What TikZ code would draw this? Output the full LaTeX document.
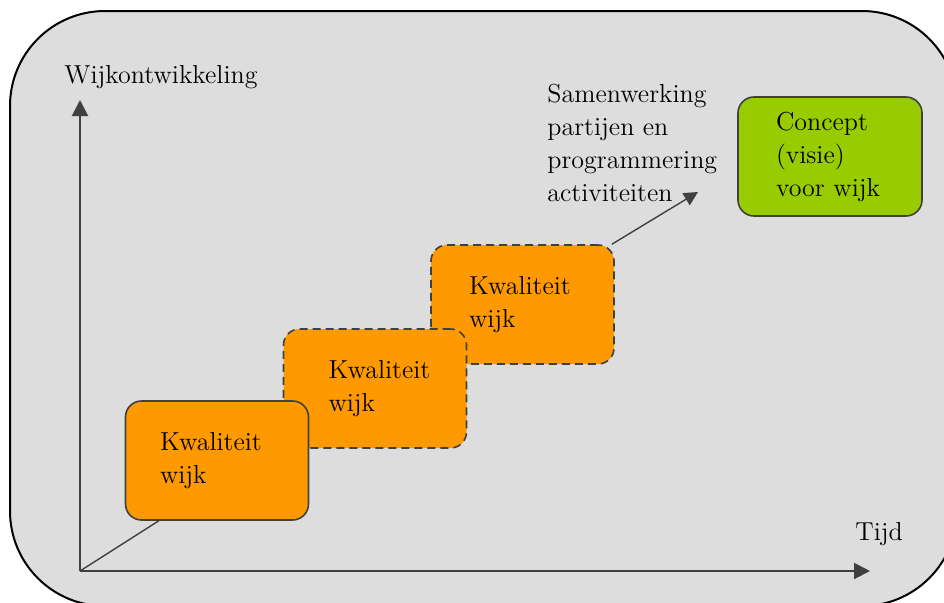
\documentclass[tikz,border=0pt]{standalone}
\usetikzlibrary{arrows.meta}
\definecolor{bggray}{HTML}{DDDDDD}
\definecolor{kworange}{HTML}{FF9900}
\definecolor{kwgreen}{HTML}{99CC00}
\definecolor{linegray}{HTML}{404040}
\tikzset{
 lbl/.style={inner sep=0pt,font=\fontsize{13}{16.5}\selectfont},
 kwbox/.style={rectangle,rounded corners=8pt,fill=kworange,draw=linegray,line width=.8pt,
  minimum width=91.5pt,minimum height=59.5pt,text width=57pt,inner xsep=17pt,align=left,
  font=\fontsize{13}{16.5}\selectfont},
 kwdash/.style={kwbox,dashed,dash pattern=on 4pt off 2.5pt},
 conbox/.style={kwbox,fill=kwgreen,text width=54pt,inner xsep=19pt},
 axis/.style={draw=linegray,line width=1pt,-{Triangle[length=8pt,width=8pt]}},
 thinline/.style={draw=linegray,line width=.7pt}
}
\begin{document}
\begin{tikzpicture}[x=.5pt,y=-.5pt]
\useasboundingbox(0,0)rectangle(944,602);
\clip(0,0)rectangle(944,602);
%background panel
\draw[fill=bggray,line width=1pt,rounded corners=47.5pt](10,11)rectangle(957,606);
%axes
\coordinate(O)at(80,571);
\coordinate(ytip)at(80,100);
\coordinate(xtip)at(870,571);
\draw[axis](O)--(ytip);
\draw[axis](O)--(xtip);
\node[lbl,anchor=base west](ylbl)at(64,83){Wijkontwikkeling};
\node[lbl,anchor=base west](xlbl)at(855,540){Tijd};
%quality steps
\node[kwdash,text width=53.5pt,inner xsep=19pt](kw3)at(522.5,304.5){Kwaliteit\\wijk};
\node[kwdash,text width=46.5pt,inner xsep=22.5pt](kw2)at(375,388.5){Kwaliteit\\wijk};
\node[kwbox](kw1)at(217,460.5){Kwaliteit\\wijk};
\draw[thinline](O)--(kw1.226);
%cooperation arrow
\coordinate(ctip)at(698,192);
\draw[thinline,-{Triangle[length=7pt,width=7pt]}](kw3.34)--(ctip);
\node[lbl,anchor=base west,align=left](coop)at(547,201){Samenwerking\\partijen en\\programmering\\activiteiten};
%concept
\node[conbox](concept)at(830,156.5){Concept\\(visie)\\voor wijk};
\end{tikzpicture}
\end{document}
